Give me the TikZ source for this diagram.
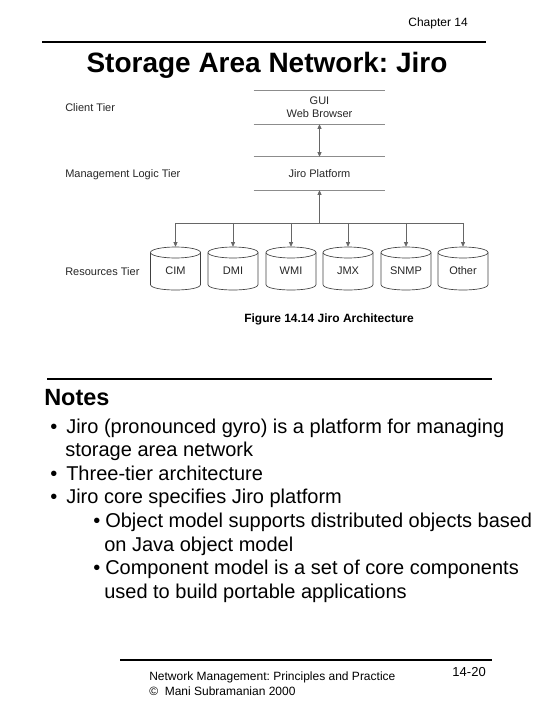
\documentclass[tikz,border=0pt]{standalone}
\usepackage{fontspec}
\setmainfont{Liberation Sans}
\frenchspacing
\usetikzlibrary{arrows.meta}
\tikzset{
  txt/.style={inner sep=0pt, anchor=base west},
  diag/.style={inner sep=0pt, text=black!85, font=\fontsize{8.25}{9.75}\selectfont},
  tierbox/.style={diag, align=center, minimum width=98.25pt, minimum height=24.75pt},
  tierline/.style={draw=black!45, line width=0.5pt},
  conn/.style={draw=black!60, line width=0.55pt},
  arr/.style={conn, -{Triangle[length=3.4pt,width=3pt]}},
  darr/.style={conn, {Triangle[length=3.4pt,width=3pt]}-{Triangle[length=3.4pt,width=3pt]}},
  cylbox/.style={inner sep=0pt, minimum width=37.5pt, minimum height=32.25pt},
  cyl/.style={draw=black!75, line width=0.5pt},
  rule/.style={draw=black, line width=0.8pt},
  bullettext/.style={txt, font=\fontsize{15}{17.7}\selectfont},
}
\begin{document}
\begin{tikzpicture}[x=0.75pt,y=-0.75pt]
\useasboundingbox (0,0) rectangle (540,720);
% header
\node[inner sep=0pt, anchor=base east, font=\fontsize{9}{11}\selectfont] (chap) at (468,27) {Chapter 14};
\coordinate (hl) at (42,42); \coordinate (hr) at (486,42);
\draw[rule] (hl) -- (hr);
\node[inner sep=0pt, anchor=base, font=\fontsize{21}{25}\selectfont\bfseries] (title) at (267,73) {Storage Area Network: Jiro};
% tier labels
\node[diag, anchor=base west] (client) at (65,112) {Client Tier};
\node[diag, anchor=base west] (mgmt) at (65,178) {Management Logic Tier};
\node[diag, anchor=base west] (res) at (65,275) {Resources Tier};
% tier boxes
\node[tierbox] (gui) at (319.5,107.5) {GUI\\Web Browser};
\draw[tierline] (gui.north west) -- (gui.north east);
\draw[tierline] (gui.south west) -- (gui.south east);
\node[tierbox] (jiro) at (319.5,173.5) {Jiro Platform};
\draw[tierline] (jiro.north west) -- (jiro.north east);
\draw[tierline] (jiro.south west) -- (jiro.south east);
\draw[darr] (gui.south) -- (jiro.north);
% cylinders
\foreach \n/\x/\t in {cim/175.5/CIM, dmi/233/DMI, wmi/291/WMI, jmx/348/JMX, snmp/406/SNMP, oth/463/Other}{
  \node[cylbox] (\n) at (\x,268.5) {};
  \draw[cyl] (\x,252.5) ellipse[x radius=18.75pt, y radius=4.125pt];
  \draw[cyl] (\x-25,252.5) -- (\x-25,284.5) .. controls (\x-25,291.83) and (\x+25,291.83) .. (\x+25,284.5) -- (\x+25,252.5);
  \node[diag] (\n-t) at (\x,271) {\t};
}
\coordinate (bus) at (319.5,223);
\draw[arr] (bus) -- (jiro.south);
\draw[conn] (cim |- bus) -- (oth |- bus);
\foreach \n in {cim,dmi,wmi,jmx,snmp,oth}{
  \draw[arr] (\n |- bus) -- (\n.north);
}
\node[inner sep=0pt, font=\fontsize{9}{10}\selectfont\bfseries] (cap) at (329,319) {Figure 14.14 Jiro Architecture};
% notes
\coordinate (nl) at (47,379); \coordinate (nr) at (492,379);
\draw[rule] (nl) -- (nr);
\node[txt, font=\fontsize{17.6}{20}\selectfont\bfseries] (notes) at (44,405) {Notes};
\node[bullettext] (b1) at (50,433) {•};
\node[bullettext] (l1) at (66,433) {Jiro (pronounced gyro) is a platform for managing};
\node[bullettext] (l2) at (65,456.6) {storage area network};
\node[bullettext] (b2) at (50,480.2) {•};
\node[bullettext] (l3) at (66,480.2) {Three-tier architecture};
\node[bullettext] (b3) at (50,503.8) {•};
\node[bullettext] (l4) at (66,503.8) {Jiro core specifies Jiro platform};
\node[bullettext] (b4) at (93,527.4) {•};
\node[bullettext] (l5) at (105,527.4) {Object model supports distributed objects based};
\node[bullettext] (l6) at (104,551) {on Java object model};
\node[bullettext] (b5) at (93,574.6) {•};
\node[bullettext] (l7) at (105,574.6) {Component model is a set of core components};
\node[bullettext] (l8) at (104,598.2) {used to build portable applications};
% footer
\coordinate (fl) at (120,660); \coordinate (fr) at (492,660);
\draw[rule] (fl) -- (fr);
\node[txt, font=\fontsize{9}{11}\selectfont] (f1) at (149,680) {Network Management: Principles and Practice};
\node[txt, font=\fontsize{9}{11}\selectfont] (f2) at (149,695) {©\ \ Mani Subramanian 2000};
\node[inner sep=0pt, anchor=base east, font=\fontsize{9.75}{11}\selectfont] (pg) at (486,676) {14-20};
\end{tikzpicture}
\end{document}
